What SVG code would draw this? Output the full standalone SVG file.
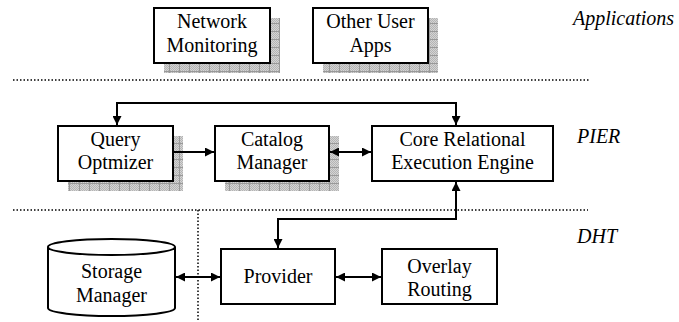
<svg xmlns="http://www.w3.org/2000/svg" width="679" height="322" viewBox="0 0 679 322" font-family="Liberation Serif, Times New Roman, serif">
<style>
.box{fill:#fff;stroke:#000;stroke-width:2}
.sh{fill:url(#grid);stroke:none}
.t{font-size:20px;fill:#000;text-anchor:middle}
.lab{font-size:20px;font-style:italic;fill:#000}
.dot{stroke:#000;stroke-width:1.5;stroke-dasharray:1.5,2;fill:none}
.con{stroke:#000;stroke-width:2;fill:none;marker-end:url(#ah)}
.bi{marker-start:url(#as)}
</style>
<defs>
<pattern id="fine" width="2" height="2" patternUnits="userSpaceOnUse">
<rect width="2" height="2" fill="#d4d4d4"/>
<rect width="1" height="1" fill="#b4b4b4"/>
<rect x="1" y="1" width="1" height="1" fill="#b4b4b4"/>
</pattern>
<pattern id="grid" width="10" height="8" patternUnits="userSpaceOnUse">
<rect width="10" height="8" fill="url(#fine)"/>
<path d="M9.5 0V8M0 7.5H10" stroke="#999" stroke-width="1"/>
</pattern>
<marker id="ah" viewBox="0 0 10 10" refX="10" refY="5" markerWidth="5" markerHeight="4.5" orient="auto" markerUnits="strokeWidth">
<path d="M0 0L10 5L0 10z" fill="#000"/>
</marker>
<marker id="as" viewBox="0 0 10 10" refX="0" refY="5" markerWidth="5" markerHeight="4.5" orient="auto" markerUnits="strokeWidth">
<path d="M10 0L0 5L10 10z" fill="#000"/>
</marker>
</defs>

<g id="separators">
<line class="dot" x1="13" y1="80" x2="590" y2="80"/>
<line class="dot" x1="13" y1="210" x2="588" y2="210"/>
<line class="dot" x1="198" y1="210" x2="198" y2="322"/>
</g>

<g id="layer-labels">
<text class="lab" x="573" y="25">Applications</text>
<text class="lab" x="577" y="143">PIER</text>
<text class="lab" x="577" y="243">DHT</text>
</g>

<g id="network-monitoring">
<rect class="sh" x="164" y="18" width="116" height="55"/>
<rect class="box" x="154" y="8" width="116" height="55"/>
<text class="t" x="212" y="28">Network</text>
<text class="t" x="212" y="52">Monitoring</text>
</g>

<g id="other-user-apps">
<rect class="sh" x="323" y="18" width="115" height="55"/>
<rect class="box" x="313" y="8" width="115" height="55"/>
<text class="t" x="370.5" y="28">Other User</text>
<text class="t" x="370.5" y="52">Apps</text>
</g>

<g id="query-optimizer">
<rect class="sh" x="68" y="136" width="115" height="55"/>
<rect class="box" x="58" y="126" width="115" height="55"/>
<text class="t" x="115.5" y="146">Query</text>
<text class="t" x="115.5" y="169">Optmizer</text>
</g>

<g id="catalog-manager">
<rect class="sh" x="225" y="136" width="114" height="55"/>
<rect class="box" x="215" y="126" width="114" height="55"/>
<text class="t" x="272" y="146">Catalog</text>
<text class="t" x="272" y="169">Manager</text>
</g>

<g id="core-engine">
<rect class="box" x="372" y="126" width="181" height="55"/>
<text class="t" x="462.5" y="146">Core Relational</text>
<text class="t" x="462.5" y="169">Execution Engine</text>
</g>

<g id="storage-manager">
<path class="box" d="M48 247V308A63.5 8 0 0 0 175 308V247A63.5 8 0 0 0 48 247A63.5 8 0 0 0 175 247"/>
<text class="t" x="111.5" y="278">Storage</text>
<text class="t" x="111.5" y="302">Manager</text>
</g>

<g id="provider">
<rect class="box" x="221" y="249" width="114" height="55"/>
<text class="t" x="278" y="283">Provider</text>
</g>

<g id="overlay-routing">
<rect class="box" x="382" y="249" width="115" height="55"/>
<text class="t" x="439.5" y="273">Overlay</text>
<text class="t" x="439.5" y="296">Routing</text>
</g>

<g id="connectors">
<path class="con" d="M173 152H214"/>
<path class="con bi" d="M330 152H371"/>
<path class="con bi" d="M117 125V103H456V125"/>
<path class="con bi" d="M456 182V219H278V248"/>
<path class="con bi" d="M176 277H220"/>
<path class="con bi" d="M336 277H381"/>
</g>
</svg>
